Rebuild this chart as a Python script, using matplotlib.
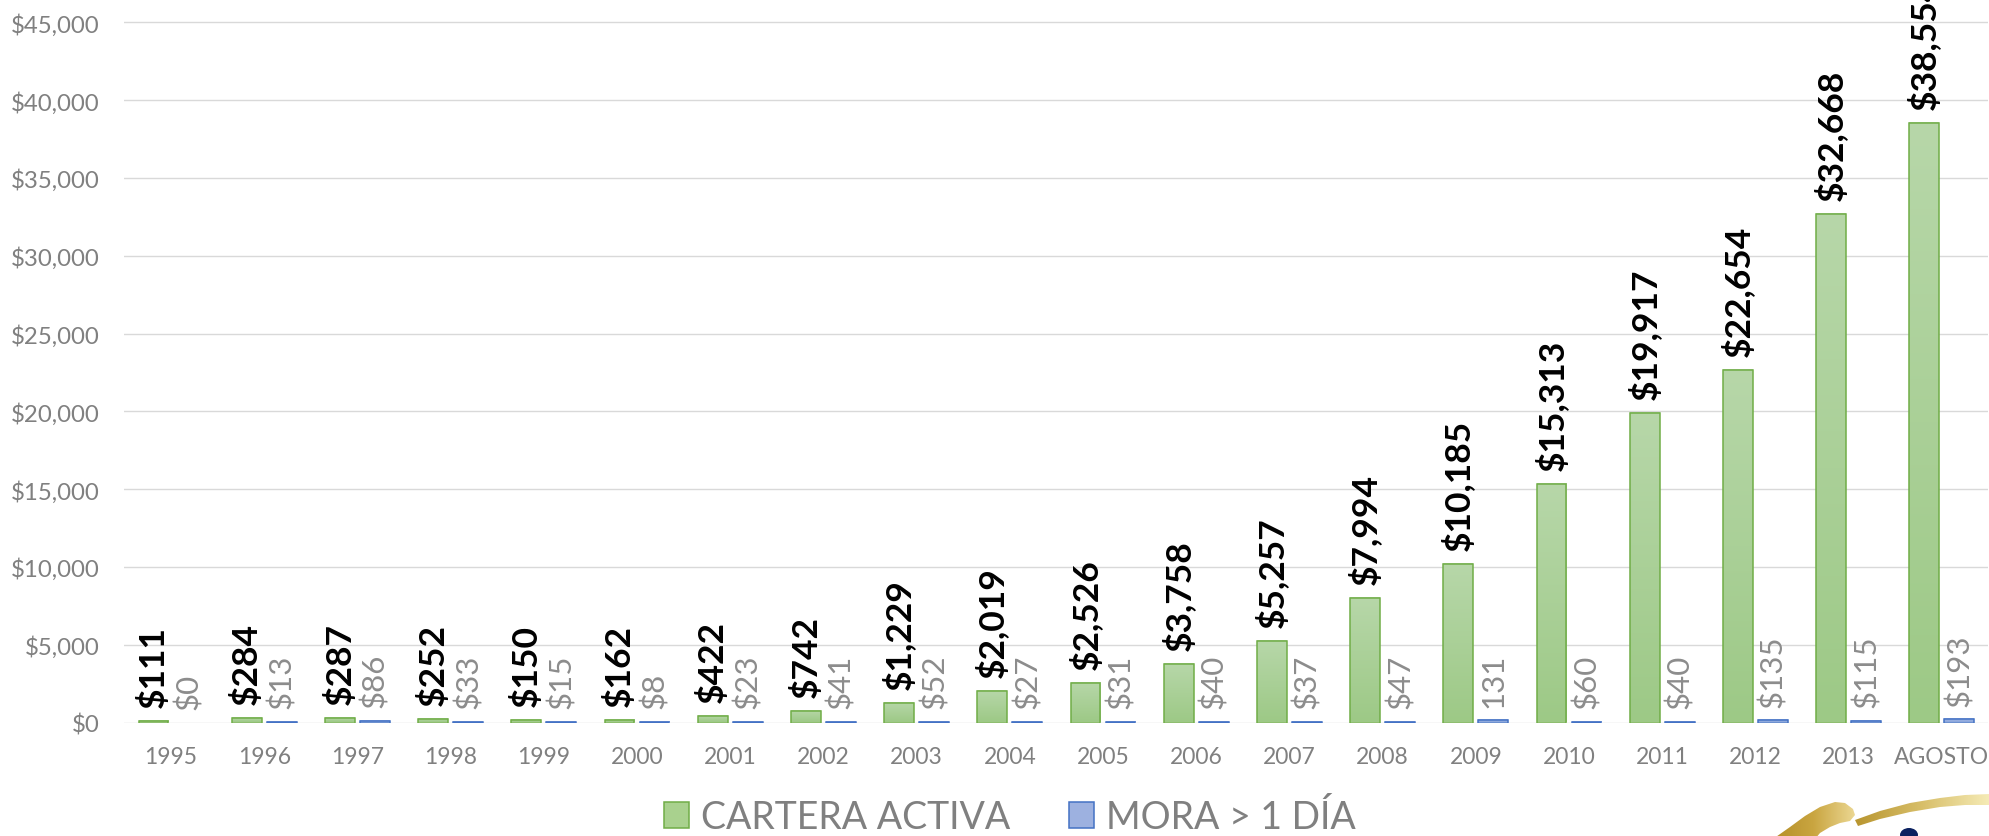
import numpy as np
import matplotlib
matplotlib.use("Agg")
import matplotlib.pyplot as plt
from matplotlib.colors import LinearSegmentedColormap
from matplotlib.patches import Patch, Polygon, Ellipse

# ---------------- data ----------------
categories = ["1995", "1996", "1997", "1998", "1999", "2000", "2001", "2002", "2003",
              "2004", "2005", "2006", "2007", "2008", "2009", "2010", "2011", "2012",
              "2013", "AGOSTO"]
cartera = [111, 284, 287, 252, 150, 162, 422, 742, 1229, 2019, 2526, 3758, 5257,
           7994, 10185, 15313, 19917, 22654, 32668, 38554]
mora = [0, 13, 86, 33, 15, 8, 23, 41, 52, 27, 31, 40, 37, 47, 131, 60, 40, 135, 115, 193]
cartera_labels = ["$" + format(v, ",") for v in cartera]
mora_labels = ["$0", "$13", "$86", "$33", "$15", "$8", "$23", "$41", "$52", "$27", "$31",
               "$40", "$37", "$47", "131", "$60", "$40", "$135", "$115", "$193"]
series_names = ["CARTERA ACTIVA", "MORA > 1 DÍA"]
yticks = list(range(0, 45001, 5000))
ytick_labels = ["$" + format(v, ",") for v in yticks]

# ---------------- style ----------------
plt.rcParams['font.family'] = ['Lato', 'DejaVu Sans']
W, H = 1989, 837
fig = plt.figure(figsize=(W / 100, H / 100), dpi=100)
fig.patch.set_facecolor('white')

ax_left, ax_right, ax_bottom_px = 124.4, 1988.4, 723.5
ax = fig.add_axes([ax_left / W, (H - ax_bottom_px) / H,
                   (ax_right - ax_left) / W, ax_bottom_px / H])

x = np.arange(len(categories))
bw = 0.32
off = 0.187

green_edge = '#70ad47'
blue_edge = '#4472c4'
green_bars = ax.bar(x - off, cartera, bw, facecolor='none', edgecolor=green_edge,
                    linewidth=1.1, zorder=3)
blue_bars = ax.bar(x + off, mora, bw, facecolor='none',
                   edgecolor=[blue_edge if v > 0 else 'none' for v in mora],
                   linewidth=1.1, zorder=3)

green_cmap = LinearSegmentedColormap.from_list('g', ['#9dc986', '#b7d7a9'])
blue_cmap = LinearSegmentedColormap.from_list('b', ['#8aa6dc', '#a9bbe6'])
grad = np.linspace(0, 1, 256).reshape(-1, 1)
for bars, cmap in ((green_bars, green_cmap), (blue_bars, blue_cmap)):
    for r in bars:
        h = r.get_height()
        if h <= 0:
            continue
        x0 = r.get_x()
        ax.imshow(grad, extent=(x0, x0 + r.get_width(), 0, h), origin='lower',
                  cmap=cmap, aspect='auto', zorder=2, interpolation='bilinear')

ax.set_xlim(-0.5, len(categories) - 0.5)
ax.set_ylim(0, 46500)

# data labels
for r, lab in zip(green_bars, cartera_labels):
    ax.annotate(lab, (r.get_x() + r.get_width() / 2, r.get_height()),
                xytext=(0, 10), textcoords='offset points', rotation=90,
                ha='center', va='bottom', fontsize=25.5, fontweight='bold',
                color='black', annotation_clip=False, zorder=4)
for r, lab in zip(blue_bars, mora_labels):
    ax.annotate(lab, (r.get_x() + r.get_width() / 2, r.get_height()),
                xytext=(0, 10), textcoords='offset points', rotation=90,
                ha='center', va='bottom', fontsize=22.5,
                color='#8c8c8c', annotation_clip=False, zorder=4)

# axes
ax.set_xticks(x)
ax.set_xticklabels(categories)
ax.set_yticks(yticks)
ax.set_yticklabels(ytick_labels)
ax.tick_params(axis='y', length=0, pad=18, labelsize=17.3, labelcolor='#808080')
ax.tick_params(axis='x', length=0, pad=17, labelsize=16.5, labelcolor='#808080')
ax.yaxis.grid(True, color='#d9d9d9', linewidth=1.0)
ax.set_axisbelow(True)
for s in ax.spines.values():
    s.set_visible(False)

# legend
handles = [Patch(facecolor='#a9d18e', edgecolor=green_edge, linewidth=1.1),
           Patch(facecolor='#9db1e0', edgecolor=blue_edge, linewidth=1.1)]
fig.legend(handles=handles, labels=series_names, loc='center',
           bbox_to_anchor=(1010 / W, 1 - 818 / H), ncol=2, frameon=False,
           fontsize=27, handlelength=0.667, handleheight=0.667,
           handletextpad=0.32, columnspacing=1.55, labelcolor='#808080')

# decorative logo fragment (bottom right)
lax = fig.add_axes([0, 0, 1, 1], zorder=5)
lax.set_xlim(0, W)
lax.set_ylim(H, 0)
lax.axis('off')
leaf_pts = [(1773, 840), (1790, 828), (1805, 817), (1820, 808), (1835, 803), (1845, 804),
            (1853, 810), (1855, 816), (1850, 822), (1840, 824), (1830, 828), (1820, 834),
            (1815, 840)]
band_pts = [(1855, 821), (1880, 812), (1910, 804), (1940, 799), (1965, 796), (1990, 795),
            (1990, 806), (1965, 806), (1940, 808), (1910, 813), (1880, 820), (1858, 827)]
gold1 = LinearSegmentedColormap.from_list('g1', ['#b38d26', '#c9a540', '#ecd894'])
gold2 = LinearSegmentedColormap.from_list('g2', ['#b8952f', '#d8bf6a', '#f6ecb8'])
hgrad = np.linspace(0, 1, 256).reshape(1, -1)
for pts, cm, ext in ((leaf_pts, gold1, (1770, 1856, 842, 800)),
                     (band_pts, gold2, (1855, 1990, 830, 792))):
    poly = Polygon(pts, closed=True, facecolor='none', edgecolor='none')
    lax.add_patch(poly)
    im = lax.imshow(hgrad, extent=ext, cmap=cm, aspect='auto', interpolation='bilinear')
    im.set_clip_path(poly)
lax.add_patch(Ellipse((1909, 836), 18, 14, facecolor='#0b2160', edgecolor='none'))
lax.set_xlim(0, W)
lax.set_ylim(H, 0)

fig.savefig('out.png', dpi=100)
